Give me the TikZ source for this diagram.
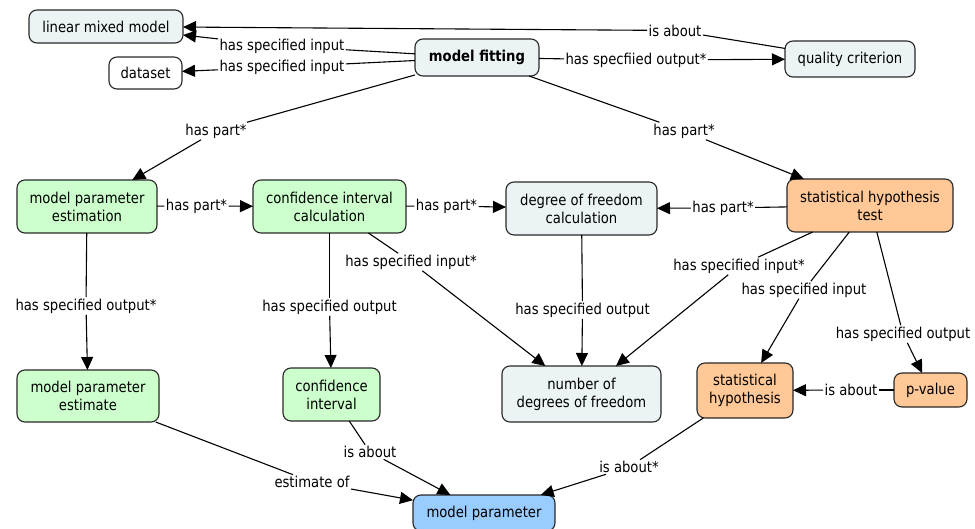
\documentclass[tikz,border=0pt]{standalone}
\usepackage{fontspec}
\setmainfont{DejaVu Sans}[FakeStretch=0.88]
\usetikzlibrary{arrows.meta}
\definecolor{cgrey}{RGB}{236,243,245}
\definecolor{cgreen}{RGB}{204,255,204}
\definecolor{corange}{RGB}{255,200,150}
\definecolor{cblue}{RGB}{153,204,255}
\definecolor{cborder}{RGB}{40,40,40}
\newcommand{\fs}{\fontsize{15}{18}\selectfont}
\tikzset{
  cpt/.style={draw=cborder, line width=1.1pt, rounded corners=8pt, align=center, font=\fs, inner sep=2pt, outer sep=0pt},
  greycpt/.style={cpt, fill=cgrey},
  greencpt/.style={cpt, fill=cgreen},
  orangecpt/.style={cpt, fill=corange},
  bluecpt/.style={cpt, fill=cblue},
  whitecpt/.style={cpt, fill=white},
  lbl/.style={font=\fs, inner sep=1.5pt, outer sep=0pt},
  con/.style={draw=black, line width=1.1pt},
  arr/.style={con, -{Triangle[length=13pt,width=12pt]}}
}
\begin{document}
\begin{tikzpicture}[x=1pt,y=-1pt]
\useasboundingbox (0,0) rectangle (975,529);
\clip (0,0) rectangle (975,529);
% concepts
\node[greycpt, minimum width=154, minimum height=33] (lmm) at (106,26.5) {linear mixed model};
\node[whitecpt, minimum width=73, minimum height=32] (ds) at (145.5,73) {dataset};
\node[greycpt, minimum width=124, minimum height=37, font=\fs\bfseries] (mf) at (477,57.5) {model fitting};
\node[greycpt, minimum width=130, minimum height=36] (qc) at (850,59) {quality criterion};
\node[greencpt, minimum width=140, minimum height=53] (mpe) at (87,206.5) {model parameter\\estimation};
\node[greencpt, minimum width=153, minimum height=53] (cic) at (329.5,206.5) {confidence interval\\calculation};
\node[greycpt, minimum width=151, minimum height=53] (dfc) at (581.5,208.5) {degree of freedom\\calculation};
\node[orangecpt, minimum width=166, minimum height=53] (sht) at (870,205.5) {statistical hypothesis\\test};
\node[greencpt, minimum width=142, minimum height=52] (mpest) at (88,396) {model parameter\\estimate};
\node[greencpt, minimum width=97, minimum height=53] (ci) at (331.5,394.5) {confidence\\interval};
\node[greycpt, minimum width=159, minimum height=56] (ndf) at (581.5,394) {number of\\degrees of freedom};
\node[orangecpt, minimum width=96, minimum height=55] (sh) at (745,390.5) {statistical\\hypothesis};
\node[orangecpt, minimum width=73, minimum height=34] (pv) at (930.5,390) {p-value};
\node[bluecpt, minimum width=142, minimum height=36] (mp) at (484,513) {model parameter};
% linking phrases
\node[lbl] (l1) at (282,46) {has specified input};
\node[lbl] (l2) at (282,67) {has specified input};
\node[lbl] (l3) at (675,30.5) {is about};
\node[lbl] (l4) at (636,60) {has specfiied output*};
\node[lbl] (l5) at (216,131) {has part*};
\node[lbl] (l6) at (684,131) {has part*};
\node[lbl] (l7) at (196.5,206) {has part*};
\node[lbl] (l8) at (446.5,206) {has part*};
\node[lbl] (l9) at (723,208) {has part*};
\node[lbl] (l10) at (86,306) {has specified output*};
\node[lbl] (l11) at (329.5,307) {has specified output};
\node[lbl] (l12) at (411,262) {has specified input*};
\node[lbl] (l13) at (582.5,310) {has specified output};
\node[lbl] (l14) at (739,266) {has specified input*};
\node[lbl] (l15) at (804,290) {has specified input};
\node[lbl] (l16) at (903,334) {has specified output};
\node[lbl] (l17) at (851,390) {is about};
\node[lbl] (l18) at (312,482) {estimate of};
\node[lbl] (l19) at (370,452) {is about};
\node[lbl] (l20) at (629,467) {is about*};
% connections
\draw[con] (mf) -- (l1); \draw[arr] (l1) -- (lmm);
\draw[con] (mf) -- (l2); \draw[arr] (l2) -- (ds);
\draw[con] (qc) -- (l3); \draw[arr] (l3) -- (lmm);
\draw[con] (mf) -- (l4); \draw[arr] (l4) -- (qc);
\draw[con] (mf) -- (l5); \draw[arr] (l5) -- (mpe);
\draw[con] (mf) -- (l6); \draw[arr] (l6) -- (sht);
\draw[con] (mpe) -- (l7); \draw[arr] (l7) -- (cic);
\draw[con] (cic) -- (l8); \draw[arr] (l8) -- (dfc);
\draw[con] (sht) -- (l9); \draw[arr] (l9) -- (dfc);
\draw[con] (mpe) -- (l10); \draw[arr] (l10) -- (mpest);
\draw[con] (cic) -- (l11); \draw[arr] (l11) -- (ci);
\draw[con] (cic) -- (l12); \draw[arr] (l12) -- (ndf);
\draw[con] (dfc) -- (l13); \draw[arr] (l13) -- (ndf);
\draw[con] (sht) -- (l14); \draw[arr] (l14) -- (ndf);
\draw[con] (sht) -- (l15); \draw[arr] (l15) -- (sh);
\draw[con] (sht) -- (l16); \draw[arr] (l16) -- (pv);
\draw[con] (pv) -- (l17); \draw[arr] (l17) -- (sh);
\draw[con] (mpest) -- (l18); \draw[arr] (l18) -- (mp);
\draw[con] (ci) -- (l19); \draw[arr] (l19) -- (mp);
\draw[con] (sh) -- (l20); \draw[arr] (l20) -- (mp);
\end{tikzpicture}
\end{document}
